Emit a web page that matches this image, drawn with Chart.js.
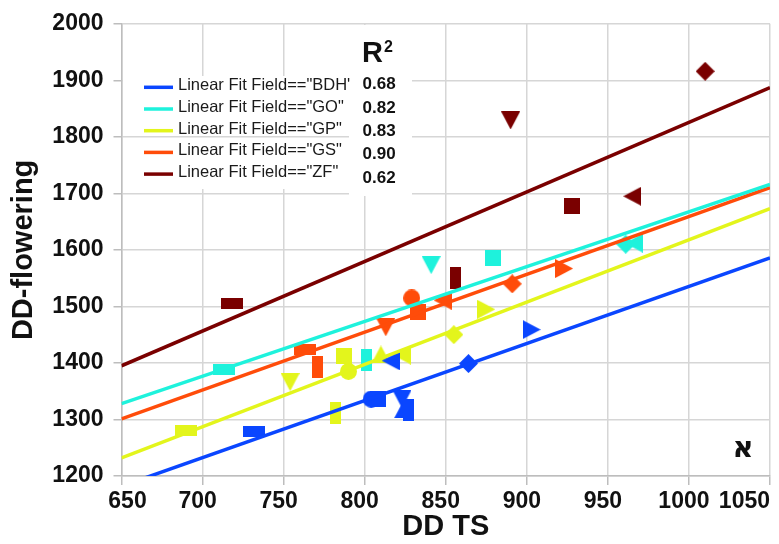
<!DOCTYPE html>
<html>
<head>
<meta charset="utf-8">
<script src="https://cdn.jsdelivr.net/npm/chart.js@4.4.1/dist/chart.umd.min.js"></script>
<style>
  html, body { margin: 0; padding: 0; background: #fff; }
</style>
</head>
<body>
<canvas id="fitChart" width="779" height="544"></canvas>
<script>
// fields and colours
const fields = ['BDH', 'GO', 'GP', 'GS', 'ZF'];
const fieldColors = ['#0a46ff', '#1ef2dc', '#e3f51c', '#ff4c0a', '#7a0000'];
const legendLabels = ['Linear Fit Field=="BDH\'', 'Linear Fit Field=="GO"', 'Linear Fit Field=="GP"', 'Linear Fit Field=="GS"', 'Linear Fit Field=="ZF"'];
const r2Values = ['0.68', '0.82', '0.83', '0.90', '0.62'];

// observed points (DD TS, DD-flowering, marker)
const bdhX = [732, 804, 808, 823, 824, 827, 816, 864, 903];
const bdhY = [1278, 1336, 1336, 1336, 1318, 1317, 1404, 1399, 1459];
const bdhShape = ['wide', 'circle', 'square', 'down', 'up', 'tall', 'left', 'diamond', 'right'];

const goX = [713, 801, 841, 879, 961, 966];
const goY = [1389, 1405, 1573, 1586, 1610, 1612];
const goShape = ['wide', 'tall', 'down', 'square', 'diamond', 'left'];

const gpX = [690, 754, 782, 787, 790, 810, 823, 855, 875];
const gpY = [1281, 1366, 1312, 1412, 1385, 1415, 1414, 1450, 1495];
const gpShape = ['wide', 'down', 'tall', 'square', 'circle', 'up', 'left', 'diamond', 'right'];

const gsX = [763, 771, 813, 829, 833, 848, 891, 923];
const gsY = [1424, 1392, 1463, 1515, 1490, 1511, 1540, 1567];
const gsShape = ['wide', 'tall', 'down', 'circle', 'square', 'left', 'diamond', 'right'];

const zfX = [718, 856, 890, 928, 965, 1010];
const zfY = [1505, 1551, 1829, 1677, 1695, 1916];
const zfShape = ['wide', 'tall', 'down', 'square', 'left', 'diamond'];

// linear fits, value at each end of the x range
const fitRange = [650, 1050];
const fitStart = [1182, 1328, 1232, 1301, 1395];
const fitEnd = [1586, 1716, 1673, 1710, 1887];

// axes
const xTicks = [650, 700, 750, 800, 850, 900, 950, 1000, 1050];
const yTicks = [1200, 1300, 1400, 1500, 1600, 1700, 1800, 1900, 2000];

const pointsX = [bdhX, goX, gpX, gsX, zfX];
const pointsY = [bdhY, goY, gpY, gsY, zfY];
const pointsShape = [bdhShape, goShape, gpShape, gsShape, zfShape];

const FONT = 'Liberation Sans, Arial, sans-serif';

function marker(shape, color) {
    const dims = {
        wide: [22, 11], tall: [11, 22], square: [16, 16], circle: [17, 17],
        diamond: [19, 19], down: [19, 18], up: [19, 18], left: [18, 19], right: [18, 19]
    };
    const [w, h] = dims[shape];
    const c = document.createElement('canvas');
    c.width = w;
    c.height = h;
    const g = c.getContext('2d');
    g.fillStyle = color;
    g.beginPath();
    switch (shape) {
        case 'circle': g.arc(w / 2, h / 2, w / 2, 0, Math.PI * 2); break;
        case 'diamond': g.moveTo(w / 2, 0); g.lineTo(w, h / 2); g.lineTo(w / 2, h); g.lineTo(0, h / 2); break;
        case 'down': g.moveTo(0, 0); g.lineTo(w, 0); g.lineTo(w / 2, h); break;
        case 'up': g.moveTo(w / 2, 0); g.lineTo(w, h); g.lineTo(0, h); break;
        case 'left': g.moveTo(0, h / 2); g.lineTo(w, 0); g.lineTo(w, h); break;
        case 'right': g.moveTo(0, 0); g.lineTo(w, h / 2); g.lineTo(0, h); break;
        default: g.rect(0, 0, w, h);
    }
    g.closePath();
    g.fill();
    return c;
}

const datasets = [];
fields.forEach((f, i) => {
    datasets.push({
        type: 'line',
        label: legendLabels[i],
        data: fitRange.map((x, k) => ({ x, y: k === 0 ? fitStart[i] : fitEnd[i] })),
        borderColor: fieldColors[i],
        borderWidth: 3.5,
        pointRadius: 0,
        clip: 0,
        order: 0
    });
    datasets.push({
        type: 'scatter',
        label: f,
        data: pointsX[i].map((x, k) => ({ x, y: pointsY[i][k] })),
        pointStyle: pointsShape[i].map(s => marker(s, fieldColors[i])),
        pointRadius: 8,
        order: 1
    });
});

const overlay = {
    id: 'overlay',
    beforeDatasetsDraw(chart) {
        const { ctx, scales: { y } } = chart;
        ctx.save();
        // legend box hides vertical grid lines, horizontal ones stay
        ctx.fillStyle = '#fff';
        ctx.fillRect(123, 76, 225, 113);
        ctx.strokeStyle = '#d6d6d6';
        ctx.lineWidth = 1.5;
        [1800].forEach(v => {
            const py = y.getPixelForValue(v);
            ctx.beginPath();
            ctx.moveTo(123, py);
            ctx.lineTo(348, py);
            ctx.stroke();
        });
        // R2 column box
        ctx.fillRect(349, 25, 63, 171);
        ctx.restore();
    },
    afterDatasetsDraw(chart) {
        const { ctx, scales: { x }, chartArea } = chart;
        ctx.save();
        // legend
        fields.forEach((f, i) => {
            const ly = 87.3 + i * 21.7;
            ctx.strokeStyle = fieldColors[i];
            ctx.lineWidth = 3.5;
            ctx.beginPath();
            ctx.moveTo(144, ly);
            ctx.lineTo(173, ly);
            ctx.stroke();
            ctx.fillStyle = '#1a1a1a';
            ctx.font = '16.5px ' + FONT;
            ctx.textAlign = 'left';
            ctx.textBaseline = 'alphabetic';
            ctx.fillText(legendLabels[i], 178, ly + 2.8);
            ctx.font = 'bold 17px ' + FONT;
            ctx.fillStyle = '#111';
            ctx.fillText(r2Values[i], 362.5, 89.3 + i * 23.35);
        });
        ctx.fillStyle = '#111';
        ctx.font = 'bold 29px ' + FONT;
        ctx.fillText('R', 362, 62);
        ctx.font = 'bold 16px ' + FONT;
        ctx.fillText('2', 384, 51.5);

        // x tick labels
        ctx.font = 'bold 23px ' + FONT;
        ctx.textBaseline = 'middle';
        xTicks.forEach((v, k) => {
            const px = x.getPixelForValue(v);
            if (k === 0) {
                ctx.textAlign = 'center';
                ctx.fillText(String(v), px + 6, 502);
            } else if (k === xTicks.length - 1) {
                ctx.textAlign = 'right';
                ctx.fillText(String(v), chartArea.right, 502);
            } else {
                ctx.textAlign = 'center';
                ctx.fillText(String(v), px - 5, 502);
            }
        });

        // panel letter
        ctx.font = 'bold 29px DejaVu Sans, sans-serif';
        ctx.textAlign = 'center';
        ctx.fillText('\u05d0', 743, 449);
        ctx.restore();
    }
};

new Chart(document.getElementById('fitChart'), {
    data: { datasets },
    options: {
        responsive: false,
        animation: false,
        events: [],
        layout: { padding: { top: 17, right: 5.5, left: 0, bottom: 0 } },
        plugins: {
            legend: { display: false },
            tooltip: { enabled: false }
        },
        scales: {
            x: {
                type: 'linear',
                position: 'bottom',
                min: 650,
                max: 1050,
                afterBuildTicks: s => { s.ticks = xTicks.map(v => ({ value: v })); },
                ticks: { display: false },
                grid: { color: '#d6d6d6', lineWidth: 1.5, tickLength: 9, tickColor: '#bdbdbd' },
                border: { color: '#bdbdbd', width: 1.5 },
                title: {
                    display: true,
                    text: 'DD TS',
                    color: '#111',
                    font: { family: FONT, size: 29, weight: 'bold' },
                    padding: { top: 0, bottom: 0 }
                },
                afterFit: s => { s.height = 68; s.paddingLeft = 0; s.paddingRight = 0; }
            },
            y: {
                type: 'linear',
                min: 1200,
                max: 2000,
                afterBuildTicks: s => { s.ticks = yTicks.map(v => ({ value: v })); },
                ticks: {
                    padding: 10,
                    color: '#111',
                    font: { family: FONT, size: 23, weight: 'bold' },
                    callback: v => String(v)
                },
                grid: { color: '#d6d6d6', lineWidth: 1.5, tickLength: 8, tickColor: '#bdbdbd' },
                border: { color: '#bdbdbd', width: 1.5 },
                title: {
                    display: true,
                    text: 'DD-flowering',
                    color: '#111',
                    font: { family: FONT, size: 29, weight: 'bold' },
                    padding: { top: 6.6, bottom: 0 }
                },
                afterFit: s => { s.width = 121.5; }
            }
        }
    },
    plugins: [overlay]
});
</script>
</body>
</html>
